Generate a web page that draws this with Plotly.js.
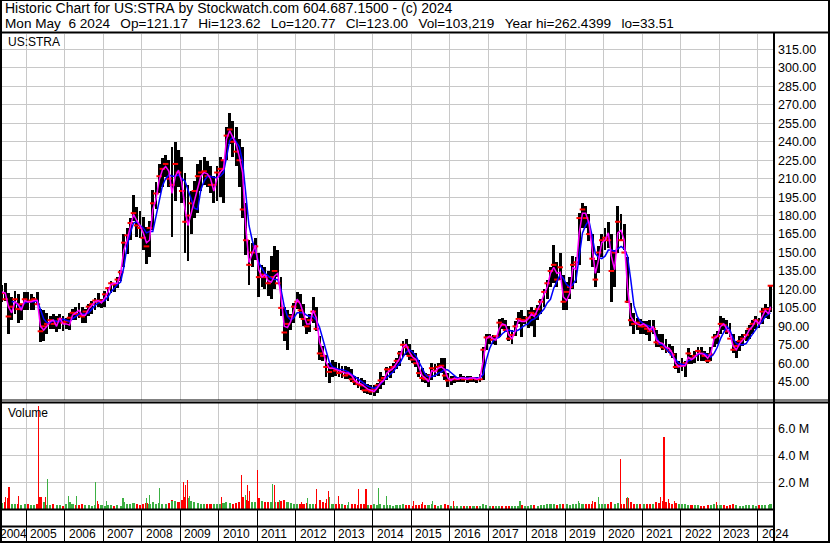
<!DOCTYPE html>
<html>
<head>
<meta charset="utf-8">
<script src="https://cdn.plot.ly/plotly-3.0.1.min.js"></script>
<style>
html,body{margin:0;padding:0;background:#fff;}
#chart{width:830px;height:543px;}
</style>
</head>
<body>
<div id="chart"></div>
<script>
// ---- Monthly readings, May 2004 .. May 2024 ----
const firstMonth = [2004, 5];
const hi = [
/*2004*/ 124,125,117,114,119,116,108,118,
/*2005*/ 118,116,114,118,104,103,101,98,100,98,100,98,
/*2006*/ 97,101,104,106,109,106,104,108,111,113,117,112,
/*2007*/ 119,122,127,125,130,136,165,170,178,197,187,184,
/*2008*/ 179,171,176,201,207,222,227,229,225,236,240,233,
/*2009*/ 228,215,205,200,208,222,225,228,224,220,212,220,
/*2010*/ 228,225,252,263,257,252,242,236,190,160,158,162,
/*2011*/ 150,140,138,135,147,155,152,130,106,103,100,109,
/*2012*/ 118,116,108,97,100,114,106,82,74,67,60,63,
/*2013*/ 61,60,58,58,57,55,50,49,48,46,43,42,
/*2014*/ 42,44,53,50,57,58,60,64,70,78,80,76,
/*2015*/ 71,68,63,56,52,51,60,59,60,64,64,52,
/*2016*/ 50,50,49,51,50,50,50,49,49,51,73,84,
/*2017*/ 84,83,82,96,97,95,90,87,94,102,103,98,
/*2018*/ 103,106,103,107,112,120,128,138,156,142,150,132,
/*2019*/ 126,130,147,146,182,190,188,181,165,144,155,165,
/*2020*/ 170,175,165,152,188,181,173,146,109,101,97,96,
/*2021*/ 94,94,95,95,87,84,84,80,76,74,68,62,
/*2022*/ 64,62,72,67,70,73,73,70,68,73,84,86,
/*2023*/ 98,97,95,93,84,78,82,84,87,91,95,98,
/*2024*/ 97,105,108,106,123.62
];
const lo = [
/*2004*/ 110,111,84,95,100,93,95,103,
/*2005*/ 103,103,103,107,77,78,84,88,88,85,88,86,
/*2006*/ 88,87,95,95,97,93,93,98,100,103,106,105,
/*2007*/ 106,111,117,118,121,127,138,149,160,176,163,162,
/*2008*/ 152,141,146,168,185,198,203,211,203,163,192,203,
/*2009*/ 190,150,143,165,178,182,200,205,203,198,190,192,
/*2010*/ 195,190,225,238,228,220,203,178,148,124,138,144,
/*2011*/ 114,122,120,115,112,120,130,98,78,71,87,93,
/*2012*/ 104,97,90,84,85,93,86,63,62,49,44,49,
/*2013*/ 50,49,48,47,47,45,42,40,38,36,35,34,
/*2014*/ 33.51,36,39,42,46,48,52,55,58,65,67,63,
/*2015*/ 60,57,49,45,44,41,46,49,50,52,46,41,
/*2016*/ 42,44,45,45,45,44,45,45,44,45,46,71,
/*2017*/ 76,76,75,81,88,85,78,76,82,92,81,92,
/*2018*/ 89,90,81,95,100,106,112,122,125,122,128,103,
/*2019*/ 103,112,120,125,140,170,170,159,138,122,133,146,
/*2020*/ 152,154,110,122,150,160,152,109,90,84,87,84,
/*2021*/ 84,83,78,84,73,73,71,68,68,64,55,52,
/*2022*/ 54,49,59,59,60,62,62,62,60,62,73,76,
/*2023*/ 84,87,84,81,68,64,70,74,78,80,84,88,
/*2024*/ 89,92,97,96,102
];
const cl = [
/*2004*/ 117,112,98,106,112,104,108,112,
/*2005*/ 110,111,112,108,86,90,92,95,92,94,96,93,
/*2006*/ 94,97,101,100,99,98,102,106,108,111,110,111,
/*2007*/ 116,121,125,124,128,134,158,164,174,182,172,170,
/*2008*/ 162,155,170,190,198,212,218,222,210,205,222,215,
/*2009*/ 200,175,180,190,200,212,215,216,212,205,205,215,
/*2010*/ 218,225,245,250,240,232,225,185,160,140,150,155,
/*2011*/ 130,132,130,125,130,135,125,105,85,92,98,106,
/*2012*/ 110,103,96,90,95,102,88,68,66,57,53,56,
/*2013*/ 54,52,53,50,51,47,45,43,42,38,38,37,
/*2014*/ 39,42,46,48,55,55,57,62,68,75,73,66,
/*2015*/ 63,60,52,48,47,50,56,54,57,58,50,46,
/*2016*/ 47,47,47,48,47,48,47,48,47,47,71,81,
/*2017*/ 81,79,82,93,91,87,80,83,90,96,95,95,
/*2018*/ 97,101,100,104,110,118,125,135,140,128,138,110,
/*2019*/ 118,122,140,142,178,185,178,165,145,128,150,160,
/*2020*/ 162,160,135,150,175,160,150,110,95,92,93,90,
/*2021*/ 90,88,86,88,77,76,73,72,70,67,57,58,
/*2022*/ 58,60,68,64,66,70,68,66,62,67,81,82,
/*2023*/ 92,91,86,80,71,74,78,80,83,88,92,95,
/*2024*/ 93,102,104,104,123
];
// magenta (short) moving average
const maShort = [
/*2004*/ 118,117,106,101,110,108,103,111,
/*2005*/ 110,110,111,111,90,87,90,94,95,90,97,92,
/*2006*/ 92,91,99,101,103,99,99,104,107,110,111,109,
/*2007*/ 113,118,124,125,125,133,152,160,171,181,176,172,
/*2008*/ 166,158,160,185,193,209,217,220,216,198,212,217,
/*2009*/ 207,185,172,182,193,204,212,215,214,210,200,210,
/*2010*/ 215,218,242,249,244,238,228,215,170,142,149,156,
/*2011*/ 136,130,132,127,126,131,133,114,90,89,94,104,
/*2012*/ 112,108,100,92,92,103,97,77,70,61,56,56,
/*2013*/ 55,54,53,52,52,50,46,44,43,41,39,38,
/*2014*/ 37,40,44,46,52,54,56,60,64,73,75,69,
/*2015*/ 65,63,56,50,48,45,54,53,56,57,55,48,
/*2016*/ 46,48,47,48,48,47,48,48,47,48,62,80,
/*2017*/ 82,80,79,88,92,91,83,80,86,95,94,94,
/*2018*/ 96,100,98,103,109,116,122,133,138,133,134,114,
/*2019*/ 111,117,138,136,166,182,182,174,155,133,144,158,
/*2020*/ 160,166,147,136,166,168,160,122,98,94,92,91,
/*2021*/ 92,90,87,90,79,77,76,73,72,68,60,57,
/*2022*/ 58,58,65,63,65,68,68,67,64,68,80,82,
/*2023*/ 90,92,88,84,74,71,76,79,82,87,90,95,
/*2024*/ 92,98,103,100,106
];
// blue (long) moving average
const maLong = [
/*2004*/ null,null,null,110,110,107,105,109,
/*2005*/ 110,110,110,111,103,96,93,93,95,94,94,96,
/*2006*/ 95,94,96,98,100,100,100,101,104,107,109,110,
/*2007*/ 111,114,118,121,124,126,138,155,166,174,175,172,
/*2008*/ 170,166,167,167,179,193,204,210,213,212,212,213,
/*2009*/ 210,208,201,193,186,185,201,208,212,212,211,211,
/*2010*/ 212,215,229,241,244,240,236,224,200,172,160,150,
/*2011*/ 142,137,133,131,129,128,128,120,106,98,95,97,
/*2012*/ 101,101,101,99,98,98,95,89,79,71,61,57,
/*2013*/ 56,55,55,54,53,51,49,47,45,43,41.5,40.4,
/*2014*/ 39.6,41,43,46,48.5,51,53,57,60,65,69,71,
/*2015*/ 69,66,61,56,51,49,49,50,52,53,55,54.5,
/*2016*/ 52,50,48,48,48,47.5,47.5,48,48,48,51,63,
/*2017*/ 72,78,80,81,84,86,87,86,86,87,89,91,
/*2018*/ 92,95,96,98,101,104,109,112,121,126,132,129,
/*2019*/ 124,122,124,128,147,166,172,176,163,149,146,145,
/*2020*/ 147,152,152,151,153,155,153,147,128,107,98,94,
/*2021*/ 92,91,90,87,82,76,75,72,69,66,63,60,
/*2022*/ 59,59,62,63,65,67,68,68,66.5,65,68,73,
/*2023*/ 80,86,90,87,80,76,75,75,76,80,84,88,
/*2024*/ 91,94,98,100,101
];
// typical daily volume per month (millions)
const volBase = [
/*2004*/ .45,.5,.8,.4,.35,.4,.3,.35,
/*2005*/ .35,.3,.3,.4,.9,.5,.3,.3,.35,.3,.3,.25,
/*2006*/ .35,.5,.4,.3,.3,.35,.3,.3,.25,.3,.35,.3,
/*2007*/ .25,.3,.3,.25,.3,.25,.5,.4,.35,.45,.35,.3,
/*2008*/ .4,.45,.4,.5,.4,.45,.4,.35,.45,.7,.6,.5,
/*2009*/ .7,.9,.8,.6,.5,.45,.4,.35,.35,.4,.35,.35,
/*2010*/ .4,.45,.5,.45,.4,.45,.5,.9,.7,.6,.5,.55,
/*2011*/ .8,.6,.5,.5,.55,.5,.5,.6,.7,.5,.45,.4,
/*2012*/ .35,.4,.35,.45,.4,.4,.4,.7,.5,.45,.4,.35,
/*2013*/ .35,.4,.35,.3,.3,.35,.35,.3,.35,.4,.3,.3,
/*2014*/ .35,.3,.4,.3,.3,.3,.25,.3,.3,.35,.3,.3,
/*2015*/ .25,.3,.3,.35,.3,.3,.35,.3,.25,.3,.35,.3,
/*2016*/ .25,.25,.2,.25,.2,.2,.2,.2,.2,.25,.4,.3,
/*2017*/ .25,.2,.2,.25,.2,.2,.25,.2,.2,.25,.3,.2,
/*2018*/ .25,.3,.3,.25,.3,.3,.35,.4,.35,.3,.35,.4,
/*2019*/ .35,.3,.4,.35,.45,.4,.35,.35,.4,.5,.4,.35,
/*2020*/ .35,.35,.55,.4,.45,.35,.4,.8,.5,.4,.35,.35,
/*2021*/ .35,.35,.4,.4,.5,.45,.6,.5,.45,.4,.45,.4,
/*2022*/ .35,.35,.3,.3,.3,.3,.25,.25,.3,.3,.35,.3,
/*2023*/ .3,.3,.25,.3,.35,.3,.25,.25,.3,.3,.3,.25,
/*2024*/ .3,.3,.3,.3,.35
];
// single heavy-volume days (millions)
const spikeDates = ['2004-06-15','2004-07-20','2004-10-15','2005-04-30','2005-06-28','2005-07-22',
 '2006-02-03','2006-04-22','2006-10-20','2006-11-08','2007-02-03','2007-07-08','2008-02-18','2008-03-14',
 '2008-06-18','2008-10-15','2009-01-30','2009-02-21','2009-03-10','2009-04-01','2010-01-30','2010-08-08',
 '2010-09-13','2010-10-01','2010-10-16','2011-01-05','2011-05-26','2011-06-18','2011-07-28','2012-02-22',
 '2012-04-20','2012-07-16','2012-10-20','2012-11-08','2012-11-15','2013-02-14','2013-05-15','2013-08-18',
 '2013-10-30','2014-02-25','2014-05-08','2015-01-20','2015-04-22','2015-07-22','2016-02-03','2017-10-30',
 '2019-05-05','2019-09-20','2019-11-10','2020-06-10','2020-08-08','2020-08-12','2020-09-16','2021-06-25',
 '2021-07-28','2021-09-12','2021-11-03','2022-12-05'];
const spikeVol = [0.87,1.64,0.95,7.7,0.87,2.23,0.95,0.95,2.02,0.6,0.6,0.85,0.8,1.05,1.56,0.6,2.02,1.77,2.2,0.95,
 0.87,2.56,1.05,1.79,1.38,2.95,1.87,1.79,0.7,0.5,0.85,1.48,0.75,1.38,0.9,0.95,0.5,1.48,1.48,1.56,0.95,
 0.6,0.5,0.6,0.6,0.6,0.6,0.6,0.9,3.77,0.74,0.9,0.55,0.92,5.41,0.75,0.6,0.5];
const spikeUp = [0,0,0,0,0,1,1,1,1,0,1,1,1,1,1,1,0,0,0,1,0,0,1,0,0,0,1,0,1,0,1,0,0,0,1,0,1,0,0,1,1,
 0,0,1,0,1,1,0,1,0,0,1,0,0,0,0,0,0];
const priceTicks = [45,60,75,90,105,120,135,150,165,180,195,210,225,240,255,270,285,300,315];
const volTicks = [2e6,4e6,6e6];
const volTickText = ['2.0 M','4.0 M','6.0 M'];
const years = [2004,2005,2006,2007,2008,2009,2010,2011,2012,2013,2014,2015,2016,2017,2018,2019,2020,2021,2022,2023,2024];
const headerLine1 = 'Historic Chart for US:STRA by Stockwatch.com 604.687.1500 - (c) 2024';
const headerLine2 = 'Mon May  6 2024   Op=121.17   Hi=123.62   Lo=120.77   Cl=123.00   Vol=103,219   Year hi=262.4399   lo=33.51';
const lastDate = '2024-05-03';

// ---- build ----
const W = 830, H = 543;
const px = v => v / W;
const py = v => (H - v) / H;
const months = hi.map((_, i) => {
  const k = firstMonth[1] - 1 + i;
  const y = firstMonth[0] + Math.floor(k / 12), m = k % 12 + 1;
  return i === hi.length - 1 ? lastDate : `${y}-${String(m).padStart(2, '0')}-15`;
});
const DAY = 86400000;
const RED = '#ff0000', GREEN = '#3cb043';
const volColors = cl.map((c, i) => (i === 0 || c >= cl[i - 1]) ? GREEN : RED);
const FONT = '"Liberation Sans", Arial, sans-serif';

const traces = [
  { type: 'bar', x: months, base: lo, y: hi.map((h, i) => h - lo[i]), width: 27 * DAY,
    marker: { color: '#000', line: { width: 0 } }, xaxis: 'x', yaxis: 'y', showlegend: false },
  { type: 'scatter', mode: 'markers', x: months, y: cl,
    marker: { symbol: 'line-ew', size: 4, line: { color: RED, width: 2 } },
    xaxis: 'x', yaxis: 'y', showlegend: false },
  { type: 'scatter', mode: 'lines', x: months, y: maLong, line: { color: '#0000ff', width: 1.5 },
    connectgaps: false, xaxis: 'x', yaxis: 'y', showlegend: false },
  { type: 'scatter', mode: 'lines', x: months, y: maShort, line: { color: '#ff00ff', width: 1.5 },
    xaxis: 'x', yaxis: 'y', showlegend: false },
  { type: 'bar', x: months, y: volBase.map(v => v * 1e6), width: 20 * DAY,
    marker: { color: volColors, line: { width: 0 } }, xaxis: 'x2', yaxis: 'y2', showlegend: false },
  { type: 'bar', x: spikeDates, y: spikeVol.map(v => v * 1e6), width: 11 * DAY,
    marker: { color: spikeUp.map(u => u ? GREEN : RED), line: { width: 0 } }, xaxis: 'x2', yaxis: 'y2', showlegend: false }
];

const xBase = {
  type: 'date', range: ['2004-05-15', '2024-05-27'], domain: [px(2), px(773)],
  tick0: '2005-01-01', dtick: 'M12', showgrid: true, gridcolor: '#c8c8c8', gridwidth: 1,
  showticklabels: false, zeroline: false, showline: false, fixedrange: true
};
const lineShape = (x0, y0, x1, y1, w) => ({ type: 'line', xref: 'paper', yref: 'paper',
  x0: px(x0), y0: py(y0), x1: px(x1), y1: py(y1), line: { color: '#000', width: w } });
const txt = (text, x, y, size, extra) => Object.assign({ text: text, xref: 'paper', yref: 'paper', x: px(x), y: py(y),
  xanchor: 'left', yanchor: 'middle', showarrow: false, borderpad: 0, borderwidth: 0,
  font: { family: FONT, size: size, color: '#000' } }, extra || {});
const line1 = headerLine1.replace(/ /g, '\u00a0');
const line2 = headerLine2.replace(/   /g, '\u00a0\u00a0\u2009').replace(/ /g, '\u00a0');

const annotations = [
  txt(line1, 5, 8, 14),
  txt(line2, 5, 23.5, 13.6),
  txt('US:STRA', 8, 42, 12),
  txt('Volume', 8, 413, 12)
];
years.forEach((yr, i) => {
  if (i === 0) {
    annotations.push(txt(String(yr), 0, 534, 12));
  } else {
    annotations.push({ text: String(yr), xref: 'x2', yref: 'paper', x: `${yr}-01-01`, xanchor: 'left', xshift: 4,
      y: py(534), yanchor: 'middle', showarrow: false, borderpad: 0, borderwidth: 0,
      font: { family: FONT, size: 12, color: '#000' } });
  }
});

const layout = {
  width: W, height: H, margin: { l: 0, r: 0, t: 0, b: 0 }, autosize: false,
  paper_bgcolor: '#fff', plot_bgcolor: '#fff', showlegend: false, hovermode: false, bargap: 0,
  barmode: 'overlay',
  xaxis: Object.assign({}, xBase, { anchor: 'y' }),
  xaxis2: Object.assign({}, xBase, { anchor: 'y2', matches: 'x', ticks: 'outside', ticklen: 32, tickwidth: 1, tickcolor: '#000' }),
  yaxis: { domain: [py(400), py(34)], range: [30.13, 327.6], side: 'right', anchor: 'x',
    tickvals: priceTicks, tickformat: '.2f', showgrid: true, gridcolor: '#c8c8c8', gridwidth: 1,
    zeroline: false, showline: false, ticks: '', ticklabelstandoff: 4,
    tickfont: { family: FONT, size: 12.5, color: '#000' }, fixedrange: true },
  yaxis2: { domain: [py(509), py(402)], range: [0, 8.0e6], side: 'right', anchor: 'x2',
    tickvals: volTicks, ticktext: volTickText, showgrid: true, gridcolor: '#c8c8c8', gridwidth: 1,
    zeroline: false, showline: false, ticks: '', ticklabelstandoff: 4,
    tickfont: { family: FONT, size: 12.5, color: '#000' }, fixedrange: true },
  shapes: [
    lineShape(1, 0, 1, 543, 2),
    lineShape(0, 0.5, 830, 0.5, 1),
    lineShape(829, 0, 829, 543, 2),
    lineShape(0, 542, 830, 542, 2),
    lineShape(0, 32.5, 830, 32.5, 2),
    lineShape(774, 32, 774, 543, 2),
    lineShape(0, 400, 830, 400, 1),
    lineShape(0, 402.5, 830, 402.5, 2),
    lineShape(0, 509.5, 774, 509.5, 2),
    lineShape(0, 526.5, 774, 526.5, 2)
  ],
  annotations: annotations
};
Plotly.newPlot('chart', traces, layout, { staticPlot: true, displayModeBar: false });
</script>
</body>
</html>
